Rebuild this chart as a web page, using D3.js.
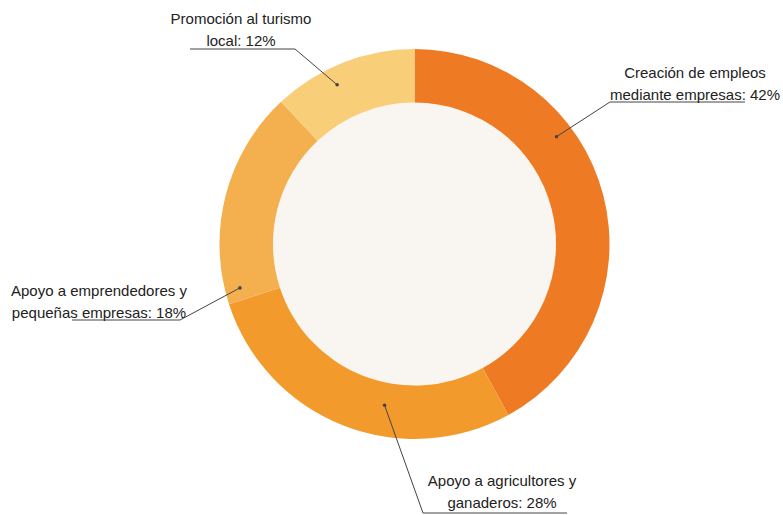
<!DOCTYPE html>
<html>
<head>
<meta charset="utf-8">
<script src="https://cdn.jsdelivr.net/npm/d3@7"></script>
<style>
  body { margin: 0; background: #ffffff; }
  svg text { font-family: "Liberation Sans", Arial, sans-serif; font-size: 15px; fill: #222; }
</style>
</head>
<body>
<svg id="chart" width="783" height="515"></svg>
<script>
const categories = [
  "Creación de empleos mediante empresas",
  "Apoyo a agricultores y ganaderos",
  "Apoyo a emprendedores y pequeñas empresas",
  "Promoción al turismo local"
];
const values = [42, 28, 18, 12];
const labelLines = [
  ["Creación de empleos", "mediante empresas: 42%"],
  ["Apoyo a agricultores y", "ganaderos: 28%"],
  ["Apoyo a emprendedores y", "pequeñas empresas: 18%"],
  ["Promoción al turismo", "local: 12%"]
];
const colors = ["#ee7b23", "#f29b2c", "#f4b04e", "#f8cf78"];

// label layout (anchor position within slice, text block placement)
const anchorFrac = [0.35, 0.39, 0.06, 0.40];
const anchorR = [178, 164, 180, 177];
const elbow = [[610, 102], [423, 513], [180, 320], [295, 49]];
const lineEnd = [745, 567, 72, 190];
const textCenter = [[695, 73], [502, 481], [99, 291], [241, 19]];

const svg = d3.select("#chart");
const cx = 414.5, cy = 244, R = 195, r = 141.5;
const g = svg.append("g").attr("transform", `translate(${cx},${cy})`);

const pie = d3.pie().value(d => d).sort(null);
const arcs = pie(values);
const arc = d3.arc().innerRadius(r).outerRadius(R);

g.append("circle").attr("r", r).attr("fill", "#f9f5f0");
g.selectAll("path.slice").data(arcs).enter().append("path")
  .attr("class", "slice")
  .attr("d", arc)
  .attr("fill", (d, i) => colors[i]);

arcs.forEach((d, i) => {
  const a = d.startAngle + anchorFrac[i] * (d.endAngle - d.startAngle);
  const px = cx + anchorR[i] * Math.sin(a);
  const py = cy - anchorR[i] * Math.cos(a);
  const pts = [[px, py], elbow[i], [lineEnd[i], elbow[i][1]]];
  svg.append("path")
    .attr("d", d3.line()(pts))
    .attr("fill", "none")
    .attr("stroke", "#444")
    .attr("stroke-width", 1);
  svg.append("circle").attr("cx", px).attr("cy", py).attr("r", 1.8).attr("fill", "#444");
  const t = svg.append("text").attr("text-anchor", "middle");
  labelLines[i].forEach((ln, j) => {
    t.append("tspan").attr("x", textCenter[i][0]).attr("y", textCenter[i][1] + j * 22 + 5).text(ln);
  });
});
</script>
</body>
</html>
